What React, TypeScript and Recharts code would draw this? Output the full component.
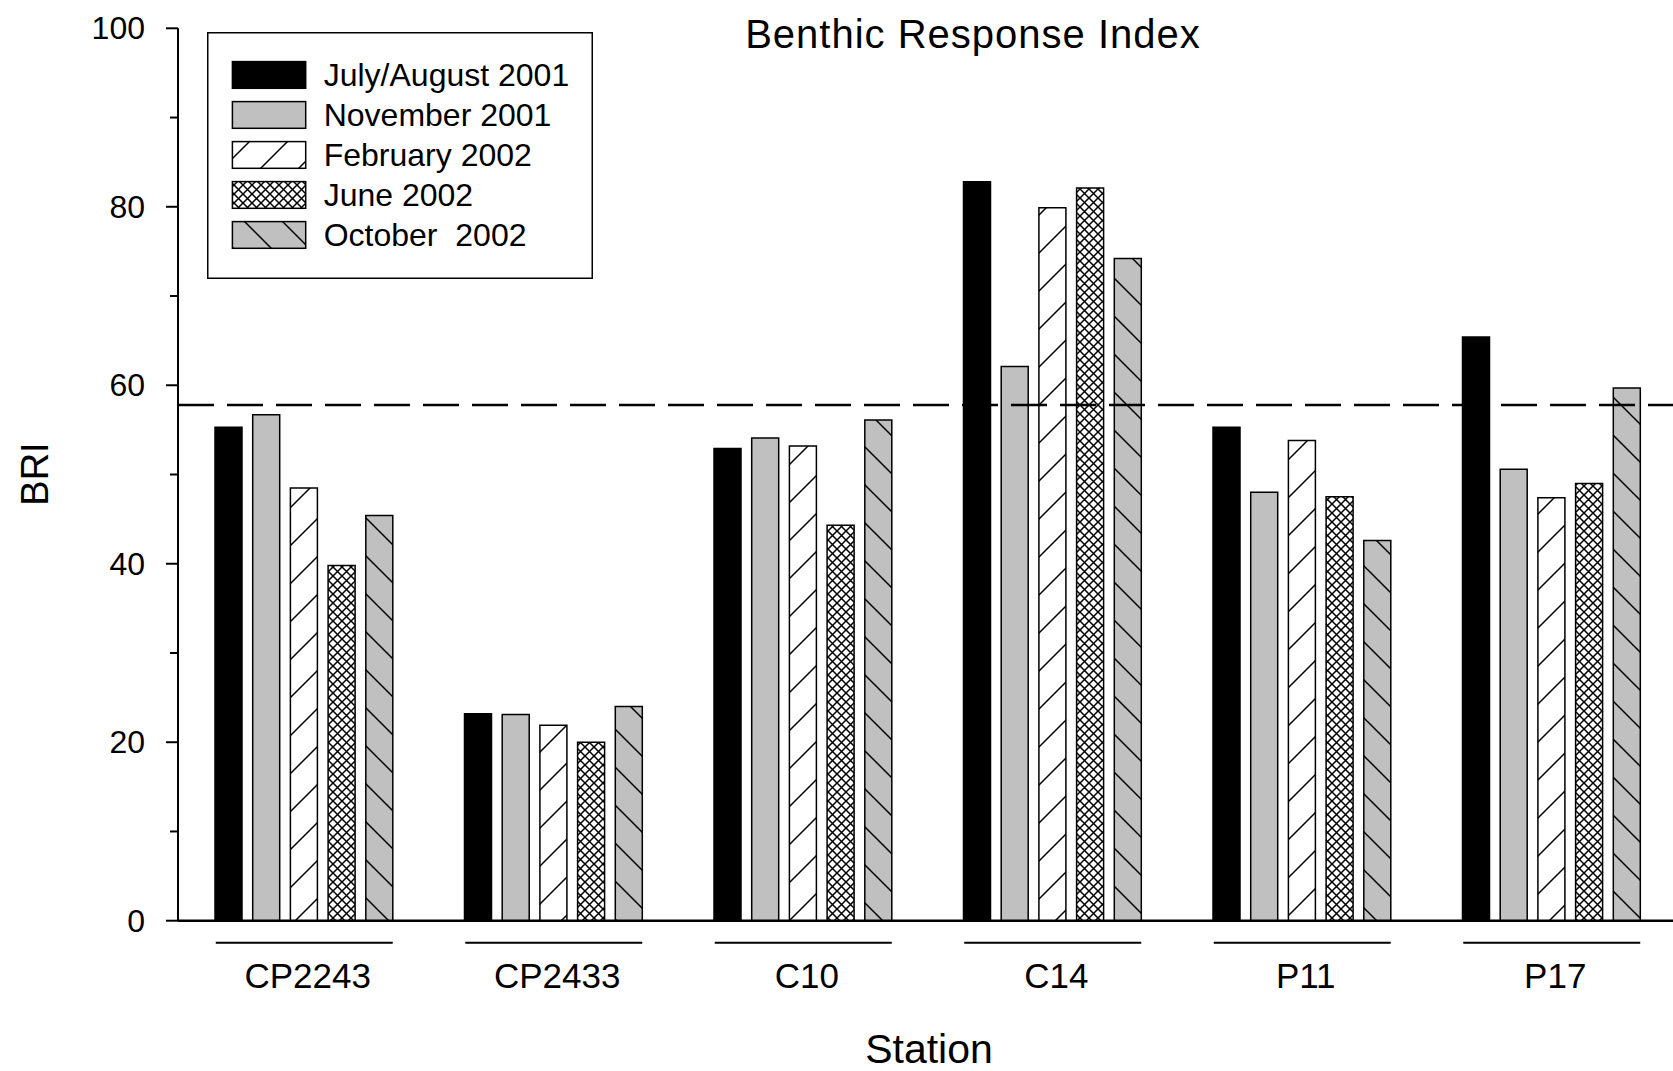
import React from 'react';
import { BarChart, Bar, XAxis, YAxis, ReferenceLine, Legend } from 'recharts';

// stations along the x axis
const stations = ['CP2243', 'CP2433', 'C10', 'C14', 'P11', 'P17'];

// BRI values per survey
const julAug2001 = [55.3, 23.2, 52.9, 82.8, 55.3, 65.4];
const nov2001 = [56.7, 23.1, 54.1, 62.1, 48.0, 50.6];
const feb2002 = [48.5, 21.9, 53.2, 79.9, 53.8, 47.4];
const jun2002 = [39.8, 20.0, 44.3, 82.1, 47.5, 49.0];
const oct2002 = [45.4, 24.0, 56.1, 74.2, 42.6, 59.7];

// reference (dashed) level
const threshold = 57.8;

const yTicks = [0, 10, 20, 30, 40, 50, 60, 70, 80, 90, 100];

const seriesNames = ['July/August 2001', 'November 2001', 'February 2002', 'June 2002', 'October  2002'];
const seriesKeys = ['julAug', 'nov', 'feb', 'jun', 'oct'];

const data = stations.map((s, i) => ({
  station: s,
  julAug: julAug2001[i],
  nov: nov2001[i],
  feb: feb2002[i],
  jun: jun2002[i],
  oct: oct2002[i],
}));

const FONT = '"Liberation Sans", Arial, Helvetica, sans-serif';
const GRAY = '#c0c0c0';
const PLOT_LEFT = 178;

// pattern defs, prefix lets the legend have its own copy
const Patterns = ({ prefix }: { prefix: string }) => (
  <defs>
    <pattern id={`${prefix}-fwd`} width={38} height={38} patternUnits="userSpaceOnUse">
      <rect width={38} height={38} fill="#fff" />
      <path d="M0,38 L38,0 M-5,5 L5,-5 M33,43 L43,33" stroke="#000" strokeWidth={1.5} />
    </pattern>
    <pattern id={`${prefix}-back`} width={38} height={38} patternUnits="userSpaceOnUse">
      <rect width={38} height={38} fill={GRAY} />
      <path d="M0,0 L38,38 M-5,33 L5,43 M33,-5 L43,5" stroke="#000" strokeWidth={1.5} />
    </pattern>
    <pattern id={`${prefix}-cross`} width={9} height={9} patternUnits="userSpaceOnUse">
      <rect width={9} height={9} fill="#fff" />
      <path d="M0,0 L9,9 M9,0 L0,9" stroke="#000" strokeWidth={1.5} />
    </pattern>
  </defs>
);

const fills = (prefix: string) => ['#000', GRAY, `url(#${prefix}-fwd)`, `url(#${prefix}-cross)`, `url(#${prefix}-back)`];

const YTick = (props: any) => {
  const { y, payload } = props;
  const v = payload.value;
  const major = v % 20 === 0;
  return (
    <g>
      <line x1={PLOT_LEFT - (major ? 12 : 8)} x2={PLOT_LEFT} y1={y} y2={y} stroke="#000" strokeWidth={2} />
      {major && (
        <text x={145} y={y} textAnchor="end" dominantBaseline="central" fontSize={32} fontFamily={FONT} fill="#000">
          {v}
        </text>
      )}
    </g>
  );
};

const XTick = (props: any) => {
  const { x, payload } = props;
  return (
    <g>
      <line x1={x - 88} x2={x + 89} y1={942.7} y2={942.7} stroke="#000" strokeWidth={2} />
      <text x={x + 4} y={988.3} textAnchor="middle" fontSize={35} fontFamily={FONT} fill="#000">
        {payload.value}
      </text>
    </g>
  );
};

const LegendBox = () => {
  const f = fills('lg');
  return (
    <svg width={386} height={247} style={{ display: 'block' }}>
      <Patterns prefix="lg" />
      <rect x={0.75} y={0.75} width={384.5} height={245.5} fill="#fff" stroke="#000" strokeWidth={1.5} />
      {seriesNames.map((name, i) => (
        <g key={name}>
          <rect x={25.4} y={29.6 + i * 40} width={73.3} height={26.7} fill={f[i]} stroke="#000" strokeWidth={1.5} />
          <text x={116.7} y={43 + i * 40} dominantBaseline="central" fontSize={32} fontFamily={FONT} fill="#000" style={{ whiteSpace: 'pre' }}>
            {name}
          </text>
        </g>
      ))}
    </svg>
  );
};

export default function App() {
  const f = fills('bar');
  return (
    <div style={{ position: 'absolute', left: 0, top: 0, background: '#fff', width: 1673, height: 1071, overflow: 'hidden' }}>
      <BarChart
        width={1673}
        height={1071}
        data={data}
        margin={{ top: 28.3, right: -3, bottom: 0, left: 0 }}
        barSize={27}
        barGap={10.7}
      >
        <Patterns prefix="bar" />
        <XAxis
          dataKey="station"
          height={150.3}
          interval={0}
          padding={{ left: 1, right: 0 }}
          tickLine={false}
          axisLine={{ stroke: '#000', strokeWidth: 2.5 }}
          tick={<XTick />}
        />
        <YAxis
          type="number"
          domain={[0, 100]}
          ticks={yTicks}
          width={PLOT_LEFT}
          tickLine={false}
          axisLine={{ stroke: '#000', strokeWidth: 2 }}
          tick={<YTick />}
        />
        <Legend
          layout="horizontal"
          verticalAlign="middle"
          align="center"
          content={<LegendBox />}
          wrapperStyle={{ left: 207, top: 32, width: 386, height: 247 }}
        />
        {seriesKeys.map((k, i) => (
          <Bar key={k} dataKey={k} name={seriesNames[i]} fill={f[i]} stroke="#000" strokeWidth={1.5} isAnimationActive={false} />
        ))}
        <ReferenceLine y={threshold} stroke="#000" strokeWidth={2.5} strokeDasharray="36 13" />
        <text x={973} y={48.3} textAnchor="middle" fontSize={40} letterSpacing={1} fontFamily={FONT} fill="#000">
          Benthic Response Index
        </text>
        <text x={48} y={474} transform="rotate(-90, 48, 474)" textAnchor="middle" fontSize={38} fontFamily={FONT} fill="#000">
          BRI
        </text>
        <text x={929} y={1063} textAnchor="middle" fontSize={41} fontFamily={FONT} fill="#000">
          Station
        </text>
      </BarChart>
    </div>
  );
}
